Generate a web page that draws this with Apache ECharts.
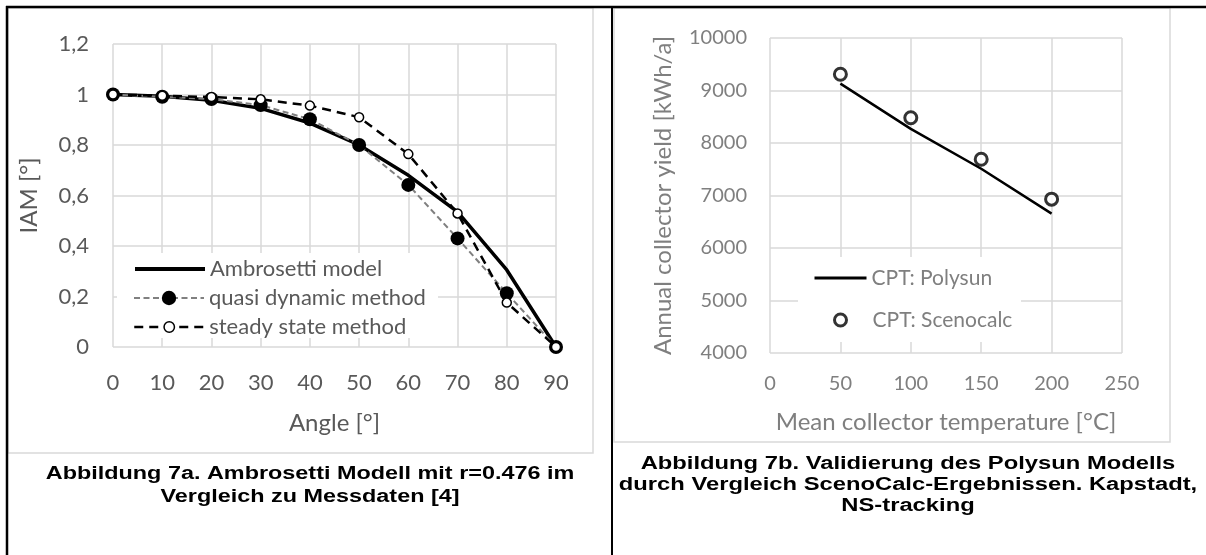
<!DOCTYPE html>
<html><head><meta charset="utf-8">
<script src="https://cdn.jsdelivr.net/npm/echarts@6/dist/echarts.min.js"></script>
<style>html,body{margin:0;padding:0;background:#fff}#c{width:1206px;height:555px}</style>
</head><body><div id="c"></div>
<script>
// ---- data (left chart) ----
const angles = [0, 10, 20, 30, 40, 50, 60, 70, 80, 90];
const ambrosetti = [1.0, 0.993, 0.977, 0.945, 0.887, 0.80, 0.68, 0.535, 0.305, 0];
const quasiDynamic = [1.0, 0.991, 0.982, 0.958, 0.902, 0.80, 0.642, 0.43, 0.213, 0];
const steadyState = [1.0, 0.995, 0.99, 0.981, 0.956, 0.91, 0.764, 0.529, 0.176, 0];
// ---- data (right chart) ----
const temps = [50, 100, 150, 200];
const polysun = [9130, 8270, 7510, 6655];
const scenocalc = [9310, 8480, 7690, 6930];
// ---- texts ----
const leftNames = ['Ambrosetti model', 'quasi dynamic method', 'steady state method'];
const rightNames = ['CPT: Polysun', 'CPT: Scenocalc'];
const captionA = 'Abbildung 7a. Ambrosetti Modell mit r=0.476 im\nVergleich zu Messdaten [4]';
const captionB = 'Abbildung 7b. Validierung des Polysun Modells\ndurch Vergleich ScenoCalc-Ergebnissen. Kapstadt,\nNS-tracking';

const FONT = 'Lato';
const CL = '#595959';
const CR = '#7f7f7f';
const GRIDC = '#d9d9d9';

const pair = (xs, ys) => xs.map((x, i) => [x, ys[i]]);
const comma = v => String(Math.round(v * 10) / 10).replace('.', ',');
const plain = v => String(v);

function axisBase(color, nameSize) {
  return {
    type: 'value',
    axisLine: { show: false },
    axisTick: { show: false },
    splitLine: { show: true, lineStyle: { color: GRIDC, width: 1.5 } },
    nameLocation: 'middle',
    nameTextStyle: { color: color, fontSize: nameSize, fontFamily: FONT }
  };
}

const chart = echarts.init(document.getElementById('c'));
const legendText = (c, s) => ({ color: c, fontSize: s, fontFamily: FONT, lineHeight: 22 });

chart.setOption({
  animation: false,
  backgroundColor: '#fff',
  grid: [
    { left: 113, top: 44, width: 443, height: 303 },
    { left: 770, top: 38, width: 352, height: 315 }
  ],
  xAxis: [
    Object.assign(axisBase(CL, 24), {
      gridIndex: 0, min: 0, max: 90, interval: 10,
      name: 'Angle [°]', nameGap: 64,
      axisLabel: { color: CL, fontSize: 22, fontFamily: FONT, margin: 25 }
    }),
    Object.assign(axisBase(CR, 24), {
      gridIndex: 1, min: 0, max: 250, interval: 50,
      name: 'Mean collector temperature [°C]', nameGap: 57,
      axisLabel: { color: CR, fontSize: 20, fontFamily: FONT, margin: 21, formatter: plain }
    })
  ],
  yAxis: [
    Object.assign(axisBase(CL, 24), {
      gridIndex: 0, min: 0, max: 1.2, interval: 0.2,
      name: 'IAM [°]', nameGap: 72,
      axisLabel: { color: CL, fontSize: 22, fontFamily: FONT, margin: 24, formatter: comma }
    }),
    Object.assign(axisBase(CR, 24), {
      gridIndex: 1, min: 4000, max: 10000, interval: 1000,
      name: 'Annual collector yield [kWh/a]', nameGap: 95,
      axisLabel: { color: CR, fontSize: 20, fontFamily: FONT, margin: 23, formatter: plain }
    })
  ],
  legend: [
    { left: 133, top: 258, padding: 0, itemWidth: 70, itemHeight: 14, selectedMode: false,
      textStyle: legendText(CL, 22),
      data: [{ name: leftNames[0], itemStyle: { opacity: 0 }, lineStyle: { width: 4 } }] },
    { left: 133, top: 287, padding: 0, itemWidth: 70, itemHeight: 18, selectedMode: false,
      textStyle: legendText(CL, 22),
      data: [{ name: leftNames[1], lineStyle: { width: 2 } }] },
    { left: 133, top: 316, padding: 0, itemWidth: 70, itemHeight: 13, selectedMode: false,
      textStyle: legendText(CL, 22),
      data: [{ name: leftNames[2], lineStyle: { width: 2.5 }, itemStyle: { borderWidth: 1.5 } }] },
    { left: 813, top: 267, padding: 0, itemWidth: 52, itemHeight: 12, selectedMode: false,
      textStyle: legendText(CR, 21),
      data: [{ name: rightNames[0], itemStyle: { opacity: 0 }, lineStyle: { width: 3 } }] },
    { left: 833, top: 309, padding: 0, itemWidth: 12, itemHeight: 12, selectedMode: false,
      textStyle: Object.assign(legendText(CR, 21), { padding: [0, 0, 0, 21] }),
      data: [{ name: rightNames[1], itemStyle: { borderWidth: 3 } }] }
  ],
  series: [
    { name: leftNames[0], type: 'line', xAxisIndex: 0, yAxisIndex: 0,
      data: pair(angles, ambrosetti), symbol: 'none',
      lineStyle: { color: '#000', width: 3.5 }, itemStyle: { color: '#000' } },
    { name: leftNames[1], type: 'line', xAxisIndex: 0, yAxisIndex: 0,
      data: pair(angles, quasiDynamic), symbol: 'circle', symbolSize: 14, showAllSymbol: true,
      lineStyle: { color: '#808080', width: 2, type: [6, 3.5] },
      itemStyle: { color: '#000', borderWidth: 0 } },
    { name: leftNames[2], type: 'line', xAxisIndex: 0, yAxisIndex: 0,
      data: pair(angles, steadyState), symbol: 'circle', symbolSize: 9, showAllSymbol: true,
      lineStyle: { color: '#000', width: 2.5, type: [9, 6] },
      itemStyle: { color: '#fff', borderColor: '#000', borderWidth: 1.5 } },
    { name: rightNames[0], type: 'line', xAxisIndex: 1, yAxisIndex: 1,
      data: pair(temps, polysun), symbol: 'none',
      lineStyle: { color: '#000', width: 2.5 }, itemStyle: { color: '#000' } },
    { name: rightNames[1], type: 'scatter', xAxisIndex: 1, yAxisIndex: 1,
      data: pair(temps, scenocalc), symbol: 'circle', symbolSize: 12,
      itemStyle: { color: '#fff', borderColor: '#000', borderWidth: 3 } }
  ],
  graphic: [
    // white legend boxes
    { type: 'rect', z: 1, silent: true, shape: { x: 117, y: 253, width: 321, height: 85 }, style: { fill: '#fff' } },
    { type: 'rect', z: 1, silent: true, shape: { x: 798, y: 257, width: 223, height: 85 }, style: { fill: '#fff' } },
    // chart area borders
    { type: 'rect', z: 5, silent: true, shape: { x: 8, y: 8, width: 585, height: 445 }, style: { fill: 'none', stroke: GRIDC, lineWidth: 1.5 } },
    { type: 'rect', z: 5, silent: true, shape: { x: 614, y: 8, width: 556, height: 434 }, style: { fill: 'none', stroke: GRIDC, lineWidth: 1.5 } },
    // table lines
    { type: 'line', z: 10, silent: true, shape: { x1: 6, y1: 7, x2: 1206, y2: 7 }, style: { stroke: '#000', lineWidth: 2.5 } },
    { type: 'line', z: 10, silent: true, shape: { x1: 7, y1: 6, x2: 7, y2: 555 }, style: { stroke: '#000', lineWidth: 2.5 } },
    { type: 'line', z: 10, silent: true, shape: { x1: 612, y1: 6, x2: 612, y2: 555 }, style: { stroke: '#000', lineWidth: 2 } },
    // captions
    { type: 'text', z: 10, silent: true, x: 310, y: 485.5, scaleX: 1.3,
      style: { text: captionA, textAlign: 'center', textVerticalAlign: 'middle', fill: '#000',
        font: 'bold 18px "Liberation Sans", Arial, sans-serif', lineHeight: 23 } },
    { type: 'text', z: 10, silent: true, x: 908, y: 485, scaleX: 1.32,
      style: { text: captionB, textAlign: 'center', textVerticalAlign: 'middle', fill: '#000',
        font: 'bold 18px "Liberation Sans", Arial, sans-serif', lineHeight: 21 } }
  ]
});
</script></body></html>
